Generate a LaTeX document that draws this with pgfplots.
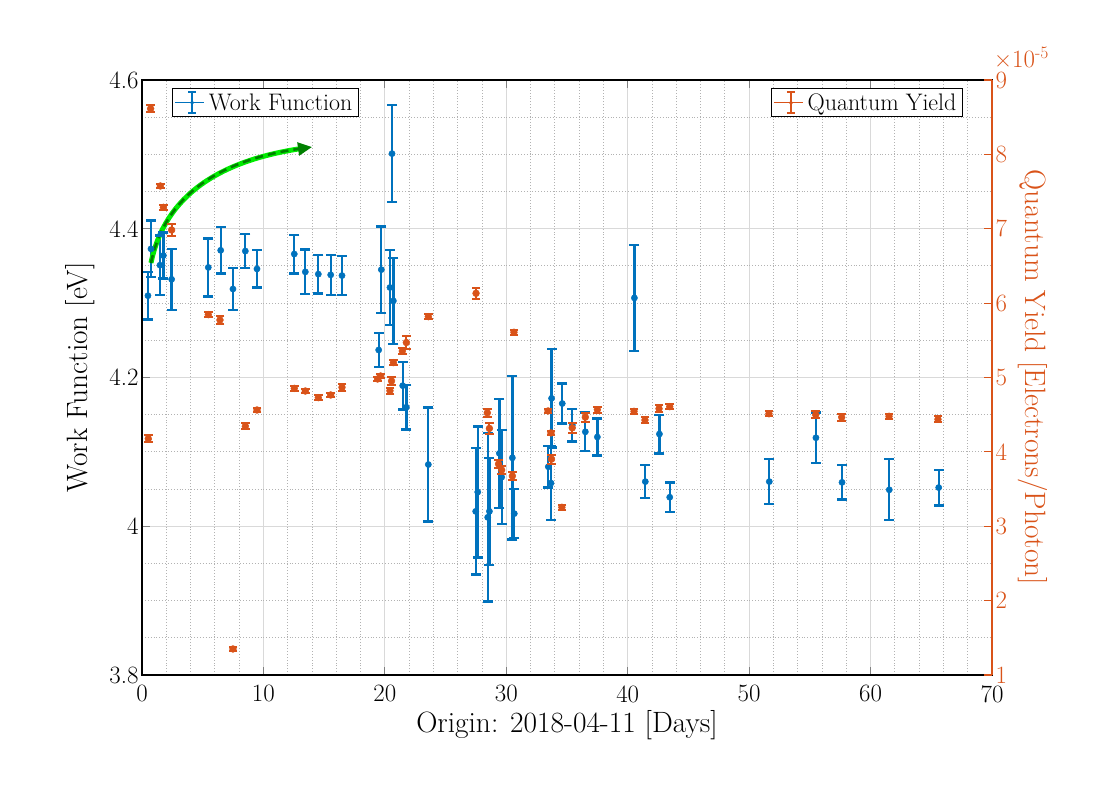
\documentclass[border=0pt]{standalone}
\usepackage{pgfplots}
\usepackage{pgfplotstable}
\pgfplotsset{compat=1.18}
\usetikzlibrary{arrows.meta}
\definecolor{wfblue}{RGB}{0,114,189}
\definecolor{qyorange}{RGB}{217,83,25}
\definecolor{arrowgreen}{RGB}{0,128,0}
\definecolor{lightgreen}{RGB}{0,235,0}

\pgfplotstableread{
x y e
0.49 4.310 0.032
0.74 4.373 0.038
1.48 4.351 0.040
1.76 4.364 0.031
2.44 4.332 0.041
5.46 4.348 0.039
6.48 4.371 0.031
7.49 4.319 0.028
8.51 4.370 0.023
9.47 4.346 0.025
12.54 4.366 0.026
13.45 4.342 0.030
14.52 4.339 0.026
15.54 4.338 0.027
16.47 4.337 0.026
19.49 4.237 0.023
19.71 4.345 0.058
20.42 4.321 0.050
20.59 4.501 0.065
20.70 4.303 0.058
21.47 4.189 0.032
21.77 4.160 0.030
23.58 4.083 0.0765
27.48 4.020 0.085
27.65 4.046 0.088
28.47 4.012 0.113
28.61 4.020 0.072
29.43 4.098 0.073
29.62 4.066 0.063
30.50 4.092 0.110
30.66 4.017 0.033
33.46 4.080 0.028
33.68 4.058 0.050
33.73 4.172 0.066
34.61 4.165 0.027
35.44 4.136 0.022
36.51 4.127 0.026
37.50 4.120 0.025
40.55 4.307 0.071
41.45 4.060 0.022
42.61 4.124 0.026
43.46 4.039 0.020
51.66 4.060 0.030
55.50 4.119 0.034
57.65 4.059 0.023
61.54 4.049 0.041
65.61 4.052 0.024
}\wfdata

\pgfplotstableread{
x y e
0.52 4.177 0.05
0.71 8.614 0.05
1.51 7.575 0.03
1.76 7.288 0.03
2.44 6.983 0.08
5.46 5.845 0.03
6.42 5.773 0.05
7.49 1.35 0.03
8.51 4.344 0.04
9.47 4.563 0.03
12.54 4.854 0.03
13.45 4.818 0.03
14.52 4.729 0.03
15.54 4.765 0.03
16.47 4.868 0.05
19.40 4.98 0.03
19.65 5.02 0.03
20.42 4.822 0.04
20.55 4.953 0.06
20.70 5.20 0.03
21.44 5.356 0.04
21.77 5.47 0.09
23.58 5.818 0.03
27.51 6.132 0.07
28.44 4.525 0.05
28.61 4.315 0.07
29.36 3.837 0.06
29.62 3.756 0.06
30.50 3.676 0.05
30.63 5.608 0.03
33.44 4.55 0.03
33.68 4.255 0.03
33.72 3.902 0.06
34.58 3.255 0.03
35.43 4.323 0.07
36.51 4.467 0.06
37.50 4.567 0.04
40.52 4.545 0.03
41.42 4.428 0.04
42.58 4.581 0.05
43.46 4.608 0.03
51.63 4.513 0.03
55.48 4.50 0.05
57.62 4.465 0.05
61.52 4.478 0.03
65.55 4.438 0.04
}\qydata

\pgfplotsset{
  common/.style={
    scale only axis, width=850bp, height=595bp,
    at={(142bp,119bp)}, anchor=south west,
    xmin=0, xmax=70,
    /pgf/number format/assume math mode=true,
    tick label style={font=\fontsize{25}{30}\selectfont},
    label style={font=\fontsize{29.5}{35}\selectfont},
    legend style={font=\fontsize{24}{28}\selectfont, draw=black, line width=1.2bp,
      inner xsep=2bp, inner ysep=2bp, nodes={inner xsep=4bp, inner ysep=3bp},
      cells={anchor=west}},
    major tick length=8bp, minor tick length=0bp,
    tick align=inside,
    tick style={line width=1.2bp},
  },
  errlegend/.style={legend image code/.code={
     \path (0bp,0bp) -- (29bp,0bp);
     \draw[line width=2bp] (17bp,-10.5bp)--(17bp,10.5bp) (13bp,-10.5bp)--(21bp,-10.5bp) (13bp,10.5bp)--(21bp,10.5bp);
     \fill (17bp,0bp) circle (1.3bp);
  }},
}

\begin{document}
\begin{tikzpicture}
\useasboundingbox (0,0) rectangle (1096bp,794bp);
\begin{axis}[common,
  ymin=3.8, ymax=4.6,
  xtick={0,10,...,70},
  ytick={3.8,4,4.2,4.4,4.6},
  yticklabels={3.8,4,4.2,4.4,4.6},
  xticklabel style={yshift=-7bp},
  minor x tick num=4, minor y tick num=3,
  xmajorgrids, ymajorgrids, xminorgrids, yminorgrids,
  major grid style={line width=1bp, black!15},
  minor grid style={line width=0.9bp, dotted, black!30},
  axis line style={line width=1.2bp},
  ytick pos=left, xtick pos=both,
  xlabel={Origin: 2018-04-11 [Days]},
  ylabel={Work Function [eV]},
  xlabel style={at={(axis description cs:0.5,-0.084)}, anchor=center},
  ylabel style={at={(axis description cs:-0.0729,0.5)}, anchor=center},
  legend style={at={(axis description cs:0.0353,0.9866)}, anchor=north west},
]
\addplot[forget plot, wfblue, line width=2.3bp, only marks, mark=-, mark size=5bp]
  table[x=x, y expr=\thisrow{y}+\thisrow{e}] {\wfdata};
\addplot[forget plot, wfblue, line width=2.3bp, only marks, mark=-, mark size=5bp]
  table[x=x, y expr=\thisrow{y}-\thisrow{e}] {\wfdata};
\addplot[forget plot, wfblue, only marks, mark=*, mark size=3.1bp,
  mark options={fill=wfblue, draw=wfblue, solid, line width=0.5bp},
  error bars/.cd, y dir=both, y explicit, error mark=none,
  error bar style={line width=2.3bp, wfblue}]
  table[x=x, y=y, y error=e] {\wfdata};
\addlegendimage{wfblue, errlegend}
\addlegendentry{Work Function}
\draw[lightgreen, line width=5bp, shorten >=8bp] (axis cs:0.74,4.354) .. controls (axis cs:1.89,4.4454) and (axis cs:6.42,4.4924) .. (axis cs:14.0,4.5099);
\draw[arrowgreen, line width=2.6bp, dash pattern=on 8bp off 5bp, -{Triangle[length=14bp,width=13bp]}] (axis cs:0.74,4.354) .. controls (axis cs:1.89,4.4454) and (axis cs:6.42,4.4924) .. (axis cs:14.0,4.5099);
\end{axis}
\begin{axis}[common, name=qyax,
  ymin=1, ymax=9,
  ytick={1,...,9},
  axis x line=none,
  axis y line*=right,
  y axis line style={line width=1.2bp, qyorange},
  ytick style={qyorange, line width=1.2bp},
  yticklabel style={text=qyorange},
  ylabel={Quantum Yield [Electrons/Photon]},
  ylabel style={at={(axis description cs:1.0482,0.5)}, anchor=center, rotate=180, text=qyorange},
  legend style={at={(axis description cs:0.9659,0.9866)}, anchor=north east},
]
\addplot[forget plot, qyorange, line width=2bp, only marks, mark=-, mark size=4.3bp]
  table[x=x, y expr=\thisrow{y}+\thisrow{e}] {\qydata};
\addplot[forget plot, qyorange, line width=2bp, only marks, mark=-, mark size=4.3bp]
  table[x=x, y expr=\thisrow{y}-\thisrow{e}] {\qydata};
\addplot[forget plot, qyorange, only marks, mark=*, mark size=3.4bp,
  mark options={fill=qyorange, draw=qyorange, solid, line width=0.5bp},
  error bars/.cd, y dir=both, y explicit, error mark=none,
  error bar style={line width=2bp, qyorange}]
  table[x=x, y=y, y error=e] {\qydata};
\addlegendimage{qyorange, errlegend}
\addlegendentry{Quantum Yield}
\end{axis}
\node[anchor=base west, text=qyorange, font=\fontsize{25}{30}\selectfont, inner sep=0pt] at ([xshift=2bp,yshift=12bp]qyax.north east) {\texttimes10\textsuperscript{-5}};
\end{tikzpicture}
\end{document}
